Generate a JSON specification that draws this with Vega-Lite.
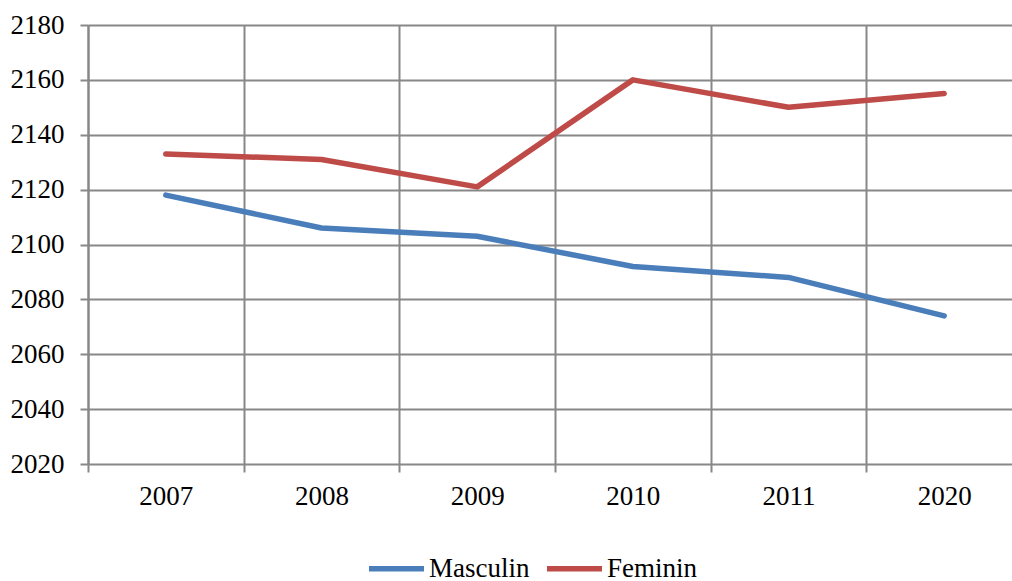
{
  "$schema": "https://vega.github.io/schema/vega-lite/v6.json",
  "autosize": "none",
  "width": 924,
  "height": 439,
  "padding": {"left": 88, "top": 25, "right": 0, "bottom": 117},
  "background": "white",
  "config": {
    "view": {"stroke": null},
    "font": "Liberation Serif, Times New Roman, serif",
    "axis": {"labelFont": "Liberation Serif, Times New Roman, serif", "labelFontSize": 27, "labelColor": "black", "domainColor": "#888888", "gridColor": "#888888", "tickColor": "#888888", "gridWidth": 2, "domainWidth": 2, "tickWidth": 2}
  },
  "data": {
    "values": [
      {"year": "2007", "series": "Masculin", "value": 2118},
      {"year": "2008", "series": "Masculin", "value": 2106},
      {"year": "2009", "series": "Masculin", "value": 2103},
      {"year": "2010", "series": "Masculin", "value": 2092},
      {"year": "2011", "series": "Masculin", "value": 2088},
      {"year": "2020", "series": "Masculin", "value": 2074},
      {"year": "2007", "series": "Feminin", "value": 2133},
      {"year": "2008", "series": "Feminin", "value": 2131},
      {"year": "2009", "series": "Feminin", "value": 2121},
      {"year": "2010", "series": "Feminin", "value": 2160},
      {"year": "2011", "series": "Feminin", "value": 2150},
      {"year": "2020", "series": "Feminin", "value": 2155}
    ]
  },
  "mark": {"type": "line", "strokeWidth": 5.5, "strokeCap": "round", "strokeJoin": "round"},
  "encoding": {
    "x": {
      "field": "year", "type": "ordinal", "title": null,
      "scale": {"type": "band", "range": [0, 934], "paddingInner": 0, "paddingOuter": 0},
      "axis": {"labelAngle": 0, "grid": true, "tickBand": "extent", "gridBand": "extent", "tickSize": 8, "labelPadding": 11, "domain": false}
    },
    "y": {
      "field": "value", "type": "quantitative", "title": null,
      "scale": {"domain": [2020, 2180], "nice": false, "zero": false},
      "axis": {"values": [2020, 2040, 2060, 2080, 2100, 2120, 2140, 2160, 2180], "format": "d", "tickSize": 8, "labelPadding": 16, "grid": true}
    },
    "color": {
      "field": "series", "type": "nominal",
      "scale": {"domain": ["Masculin", "Feminin"], "range": ["#4A7EBB", "#BE4B48"]},
      "legend": {
        "title": null, "orient": "none", "direction": "horizontal",
        "legendX": 278, "legendY": 513,
        "symbolType": "stroke", "symbolSize": 3025, "symbolStrokeWidth": 5.5,
        "labelFont": "Liberation Serif, Times New Roman, serif", "labelFontSize": 27, "labelColor": "black",
        "labelOffset": 2, "columnPadding": 6, "padding": 0
      }
    }
  }
}
